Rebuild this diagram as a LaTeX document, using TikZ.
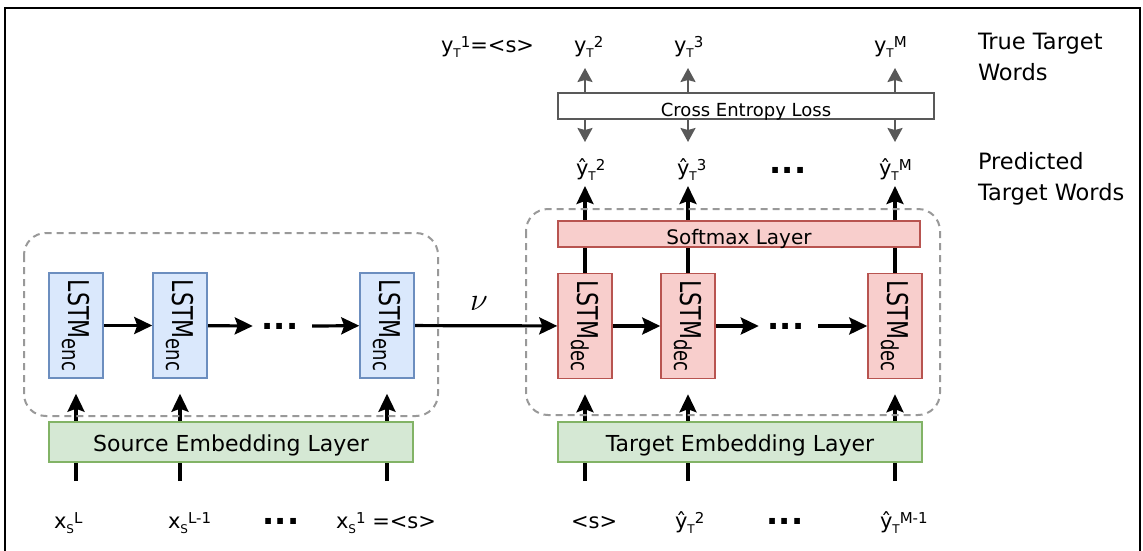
\documentclass[tikz,border=0pt]{standalone}
\usepackage{fontspec}
\setmainfont{DejaVu Sans}
\usetikzlibrary{arrows.meta,backgrounds,positioning}

\definecolor{encfill}{HTML}{DAE8FC}
\definecolor{encdraw}{HTML}{6C8EBF}
\definecolor{decfill}{HTML}{F8CECC}
\definecolor{decdraw}{HTML}{B85450}
\definecolor{embfill}{HTML}{D5E8D4}
\definecolor{embdraw}{HTML}{82B366}
\definecolor{lossgray}{HTML}{595959}
\definecolor{groupgray}{HTML}{999999}

\newcommand{\fs}[1]{\fontsize{#1}{#1}\selectfont}
\newcommand{\tok}[3]{#1\raisebox{-5pt}{\fs{12}#2}\raisebox{5pt}{\fs{15}#3}}
\newcommand{\lstm}[1]{\scalebox{1}[1.3]{\fs{22}LSTM\raisebox{-5pt}{\fs{18}#1}}}

\tikzset{every picture/.style={line width=2pt},
  cell/.style={draw,line width=1.5pt,minimum width=54pt,minimum height=105pt,inner sep=0pt},
  enccell/.style={cell,fill=encfill,draw=encdraw},
  deccell/.style={cell,fill=decfill,draw=decdraw},
  embbox/.style={draw=embdraw,fill=embfill,line width=1.5pt,minimum width=364pt,minimum height=40pt,inner sep=0pt,font=\fs{22}},
  softbox/.style={draw=decdraw,fill=decfill,line width=1.5pt,minimum width=362pt,minimum height=26pt,inner sep=0pt,font=\fs{20}},
  lossbox/.style={draw=lossgray,fill=white,line width=1.5pt,minimum width=376pt,minimum height=26pt,inner sep=0pt,font=\fs{18}},
  groupbox/.style={draw=groupgray,dash pattern=on 7pt off 5pt,rounded corners=22pt,line width=2pt},
  flow/.style={-{Stealth[length=18pt,width=17pt,inset=3pt]},line width=3.2pt},
  lossflow/.style={-{Stealth[length=14pt,width=15pt,inset=2pt]},line width=2.2pt,draw=lossgray},
  tokn/.style={font=\fs{21},inner sep=0pt,anchor=base west,text height=15pt,text depth=5pt},
  gap/.style={font=\fs{32}\bfseries,inner sep=0pt},
  side/.style={font=\fontsize{22.5}{31}\selectfont,align=left,inner sep=0pt,anchor=north west}
}

\begin{document}
\begin{tikzpicture}[x=1pt,y=-1pt]
    \useasboundingbox (0,0) rectangle (1143,550);

    % frame
    \draw[line width=2.5pt] (5,560) -- (5,8) -- (1140,8) -- (1140,560);

    % encoder / decoder groups
    \draw[groupbox] (24,233) rectangle (438,416);
    \draw[groupbox] (526,209) rectangle (940,415);

    % LSTM cells
    \node[enccell] (enc1) at (76,325.5) {\rotatebox{-90}{\lstm{enc}}};
    \node[enccell] (enc2) at (180,325.5) {\rotatebox{-90}{\lstm{enc}}};
    \node[enccell] (enc3) at (387,325.5) {\rotatebox{-90}{\lstm{enc}}};
    \node[deccell] (dec1) at (585,326) {\rotatebox{-90}{\lstm{dec}}};
    \node[deccell] (dec2) at (688,326) {\rotatebox{-90}{\lstm{dec}}};
    \node[deccell] (dec3) at (895,326) {\rotatebox{-90}{\lstm{dec}}};
    \node[gap] (encdots) at (280,326) {...};
    \node[gap] (decdots) at (786,326) {...};

    % layers
    \node[embbox] (srcemb) at (231,442) {\raisebox{-3pt}[\height][\depth]{Source Embedding Layer}};
    \node[embbox] (tgtemb) at (740,442) {\raisebox{-3pt}[\height][\depth]{Target Embedding Layer}};
    \node[softbox] (softmax) at (739,234) {\raisebox{-5pt}[\height][\depth]{Softmax Layer}};
    \node[lossbox] (loss) at (746,106) {\raisebox{-6pt}[\height][\depth]{Cross Entropy Loss}};

    % true target words
    \node[tokn] (yt1) at (440,52) {\tok{y}{T}{1}=<s>};
    \node[tokn] (yt2) at (573,52) {\tok{y}{T}{2}};
    \node[tokn] (yt3) at (673,52) {\tok{y}{T}{3}};
    \node[tokn] (ytm) at (873,52) {\tok{y}{T}{M}};

    % predicted words
    \node[tokn] (yh2) at (575,175) {\tok{\^{y}}{T}{2}};
    \node[tokn] (yh3) at (676,175) {\tok{\^{y}}{T}{3}};
    \node[tokn] (yhm) at (878,175) {\tok{\^{y}}{T}{M}};
    \node[gap] (topdots) at (788,170) {...};

    % inputs
    \node[tokn] (xl) at (53,528) {\tok{x}{S}{L}};
    \node[tokn] (xl1) at (167,528) {\tok{x}{S}{L-1}};
    \node[tokn] (x1) at (335,528) {\tok{x}{S}{1} =<s>};
    \node[gap] (srcdots) at (281,521) {...};
    \node[tokn] (bos) at (570,528) {<s>};
    \node[tokn] (yin2) at (674,528) {\tok{\^{y}}{T}{2}};
    \node[tokn] (yinm) at (879,528) {\tok{\^{y}}{T}{M-1}};
    \node[gap] (tgtdots) at (785,521) {...};

    % side labels
    \node[side] (truew) at (977,32) {True Target\\Words};
    \node[side] (predw) at (977,151) {Predicted\\Target Words};

    \begin{scope}[on background layer]
        % recurrences
        \draw[flow] (enc1) -- (enc2);
        \draw[flow] (enc2) -- ([xshift=-8pt]encdots.west);
        \draw[flow] ([xshift=13pt]encdots.east) -- (enc3);
        \draw[flow] (enc3) -- node[pos=0.45,above=14pt,inner sep=0pt,font=\fs{25}] (nu) {\scalebox{1.3}{$\nu$}} (dec1);
        \draw[flow] (dec1) -- (dec2);
        \draw[flow] (dec2) -- ([xshift=-8pt]decdots.west);
        \draw[flow] ([xshift=13pt]decdots.east) -- (dec3);

        % embeddings into cells
        \foreach \w/\c in {xl/enc1,xl1/enc2,x1/enc3,bos/dec1,yin2/dec2,yinm/dec3}
            \draw[flow,shorten <=31pt,shorten >=15pt] (\w.north -| \c) -- (\c.south);

        % outputs and loss
        \foreach \c/\h/\t in {dec1/yh2/yt2,dec2/yh3/yt3,dec3/yhm/ytm}{
            \draw[flow,shorten >=5pt] (\c.north) -- (\h.south -| \c);
            \draw[lossflow,shorten >=17pt] (loss.south -| \c) -- (\h.north -| \c);
            \draw[lossflow,shorten >=10pt] (loss.north -| \c) -- (\t.south -| \c);
        }
    \end{scope}
\end{tikzpicture}
\end{document}
